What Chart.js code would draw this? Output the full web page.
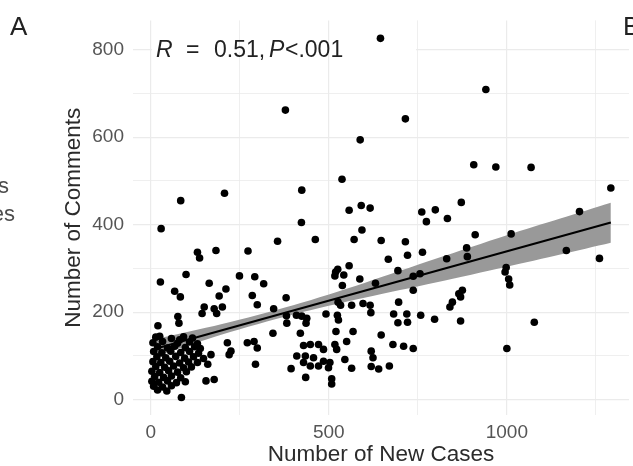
<!DOCTYPE html>
<html>
<head>
<meta charset="utf-8">
<script src="https://cdn.jsdelivr.net/npm/chart.js@4.4.1/dist/chart.umd.min.js"></script>
<style>
  html, body { margin: 0; padding: 0; background: #fff; }
  #wrap { width: 633px; height: 466px; position: relative; }
</style>
</head>
<body>
<div id="wrap"><canvas id="scatter"></canvas></div>
<script>
// ===== Data =====
const newCases = [
  645, 941, 715, 378, 588, 537, 907, 969, 1068, 1292,
  557, 591, 616, 593, 761, 774, 799, 833, 872, 1204,
  911, 1012, 462, 571, 647, 715, 207, 84, 424, 423,
  29, 356, 131, 137, 183, 273, 27, 99, 164, 249,
  292, 317, 519, 517, 67, 211, 721, 763, 667, 887,
  889, 831, 694, 557, 525, 542, 587, 538, 631, 737,
  756, 737, 380, 345, 526, 533, 564, 596, 616, 618,
  696, 492, 524, 527, 682, 719, 694, 721, 758, 381,
  409, 424, 438, 436, 382, 343, 420, 520, 568, 647,
  550, 517, 522, 680, 710, 737, 429, 448, 471, 485,
  410, 434, 457, 485, 503, 429, 448, 471, 499, 394,
  545, 564, 619, 624, 619, 640, 670, 435, 508, 508,
  1167, 1260, 998, 995, 1005, 1008, 865, 875, 870, 847,
  840, 797, 870, 1077, 1000, 83, 192, 285, 299, 150,
  144, 178, 185, 201, 76, 79, 20, 25, 81, 215,
  225, 271, 290, 299, 294, 169, 155, 178, 86, 220,
  160,
  14, 58, 92, 117, 6, 33, 75, 109, 131,
  19, 47, 67, 97, 123, 139, 8, 31, 56, 84, 109, 134,
  17, 42, 70, 95, 120, 148, 6, 28, 53, 81, 106, 131,
  14, 39, 64, 92, 114, 3, 25, 50, 75, 100,
  11, 36, 58, 84, 3, 22, 47, 72, 97, 8, 33, 58, 19, 45,
];

const comments = [
  826, 709, 642, 662, 594, 504, 537, 532, 531, 484,
  433, 444, 438, 388, 429, 407, 434, 414, 451, 430,
  377, 379, 366, 366, 364, 361, 472, 455, 479, 405,
  391, 362, 337, 324, 341, 340, 269, 286, 266, 283,
  281, 265, 292, 283, 248, 253, 330, 337, 321, 347,
  327, 322, 295, 306, 298, 285, 276, 261, 266, 282,
  288, 250, 233, 208, 223, 216, 216, 220, 216, 199,
  223, 196, 193, 182, 196, 196, 176, 177, 193, 192,
  193, 191, 186, 175, 175, 152, 152, 156, 156, 148,
  133, 126, 115, 126, 122, 117, 124, 126, 126, 115,
  100, 100, 96, 88, 85, 85, 77, 77, 73, 71,
  92, 72, 111, 96, 76, 70, 77, 51, 36, 48,
  341, 323, 302, 292, 276, 262, 242, 250, 235, 223,
  212, 184, 180, 177, 117, 235, 237, 238, 217, 212,
  197, 208, 197, 212, 190, 175, 169, 145, 137, 130,
  111, 130, 133, 118, 81, 103, 43, 46, 5, 103,
  81,
  143, 140, 144, 141, 130, 133, 129, 132, 128,
  121, 118, 122, 119, 121, 117, 110, 107, 111, 108, 110, 106,
  98, 96, 99, 95, 98, 94, 87, 85, 88, 84, 86, 85,
  76, 74, 77, 73, 75, 65, 62, 66, 63, 64,
  53, 51, 54, 50, 42, 40, 43, 39, 41, 31, 29, 32, 22, 20,
];

// fitted line and its confidence band, read at a few x positions
const fitX = [10, 1292];
const fitY = [116, 405];
const bandX = [10, 200, 400, 600, 800, 1000, 1150, 1292];
const bandLow = [98, 149, 195, 233, 268, 304, 332, 359];
const bandHigh = [138, 173, 216, 267, 322, 376, 414, 450];

const xTicks = [0, 250, 500, 750, 1000, 1250];
const xLabelled = [0, 500, 1000];
const yTicks = [0, 100, 200, 300, 400, 500, 600, 700, 800];
const yLabelled = [0, 200, 400, 600, 800];

const FONT = "'Liberation Sans', Arial, sans-serif";
const GRID = '#ebebeb';

const pairs = (xs, ys) => xs.map((x, i) => ({ x, y: ys[i] }));

// ===== Texts outside the library (panel letters, stat label) =====
const extraText = {
  id: 'extraText',
  beforeDatasetsDraw(chart) {
    // the stat label hides the 800 grid line behind it
    const { ctx, scales } = chart;
    const y800 = scales.y.getPixelForValue(800);
    ctx.save();
    ctx.fillStyle = '#fff';
    ctx.fillRect(scales.x.getPixelForValue(3), y800 - 2, scales.x.getPixelForValue(745) - scales.x.getPixelForValue(3), 4);
    ctx.restore();
  },
  afterDraw(chart) {
    const { ctx } = chart;
    ctx.save();
    ctx.textBaseline = 'alphabetic';
    ctx.fillStyle = '#222';
    ctx.font = `26px ${FONT}`;
    ctx.textAlign = 'left';
    ctx.fillText('A', 10, 35);
    ctx.fillText('B', 623, 35);

    ctx.fillStyle = '#4d4d4d';
    ctx.font = `22px ${FONT}`;
    ctx.textAlign = 'right';
    ctx.fillText('s', 9, 193);
    ctx.fillText('es', 15, 221);

    ctx.fillStyle = '#222';
    ctx.textAlign = 'left';
    ctx.font = `italic 23px ${FONT}`;
    ctx.fillText('R', 156, 57);
    ctx.fillText('P', 269, 57);
    ctx.font = `23px ${FONT}`;
    ctx.fillText('=', 186, 57);
    ctx.fillText('0.51,', 214, 57);
    ctx.fillText('<.001', 285, 57);
    ctx.restore();
  },
};

function renderScatter() {
  const canvas = document.getElementById('scatter');

  new Chart(canvas, {
    type: 'scatter',
    data: {
      datasets: [
        {
          label: 'fit',
          data: pairs(fitX, fitY),
          showLine: true,
          borderColor: '#000',
          borderWidth: 2.2,
          pointRadius: 0,
          fill: false,
        },
        {
          label: 'days',
          data: pairs(newCases, comments),
          backgroundColor: '#000',
          borderWidth: 0,
          pointRadius: 3.8,
        },
        {
          label: 'upper',
          data: pairs(bandX, bandHigh),
          showLine: true,
          borderWidth: 0,
          pointRadius: 0,
          tension: 0.3,
          backgroundColor: '#999999',
          fill: '+1',
        },
        {
          label: 'lower',
          data: pairs(bandX, bandLow),
          showLine: true,
          borderWidth: 0,
          pointRadius: 0,
          tension: 0.3,
          fill: false,
        },
      ],
    },
    options: {
      responsive: false,
      animation: false,
      layout: { padding: { top: 14, left: 0, right: 0, bottom: 0 } },
      plugins: {
        legend: { display: false },
        tooltip: { enabled: false },
      },
      scales: {
        x: {
          type: 'linear',
          min: -50,
          max: 1343,
          afterFit: (s) => { s.height = 51; },
          afterBuildTicks: (s) => { s.ticks = xTicks.map((v) => ({ value: v })); },
          border: { display: false },
          grid: {
            color: GRID,
            drawTicks: false,
            lineWidth: (c) => (xLabelled.includes(c.tick && c.tick.value) ? 1.2 : 0.8),
          },
          ticks: {
            padding: 6,
            maxRotation: 0,
            autoSkip: false,
            color: '#555',
            font: { family: FONT, size: 19 },
            callback: (v) => (xLabelled.includes(v) ? String(v) : ''),
          },
          title: {
            display: true,
            text: 'Number of New Cases',
            color: '#2b2b2b',
            font: { family: FONT, size: 22.5, lineHeight: 1 },
            padding: 0,
          },
        },
        y: {
          type: 'linear',
          min: -35,
          max: 867,
          afterFit: (s) => { s.width = 133; },
          afterBuildTicks: (s) => { s.ticks = yTicks.map((v) => ({ value: v })); },
          border: { display: false },
          grid: {
            color: GRID,
            drawTicks: false,
            lineWidth: (c) => (yLabelled.includes(c.tick && c.tick.value) ? 1.2 : 0.8),
          },
          ticks: {
            padding: 9,
            autoSkip: false,
            color: '#555',
            font: { family: FONT, size: 19 },
            callback: (v) => (yLabelled.includes(v) ? String(v) : ''),
          },
          title: {
            display: true,
            text: 'Number of Comments',
            color: '#2b2b2b',
            font: { family: FONT, size: 22.5, lineHeight: 1 },
            padding: { top: 63, bottom: 0 },
          },
        },
      },
    },
    plugins: [extraText],
  });
}

document.addEventListener('DOMContentLoaded', () => {
  const canvas = document.getElementById('scatter');
  canvas.width = 633;
  canvas.height = 466;
  renderScatter();
});
</script>
</body>
</html>
